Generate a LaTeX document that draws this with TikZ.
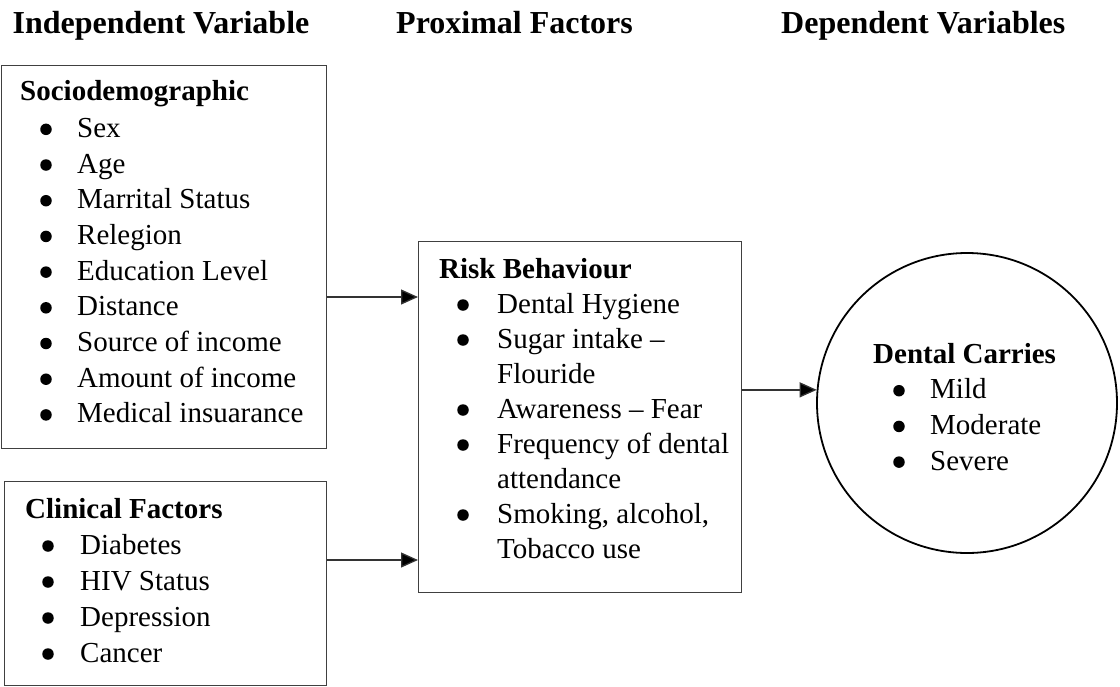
\documentclass[tikz,border=0pt]{standalone}
\usepackage{fontspec}
\setmainfont{Liberation Serif}
\usetikzlibrary{arrows.meta,calc}
\begin{document}
\begin{tikzpicture}[x=1pt,y=-1pt,
  frame/.style={draw=black!75, line width=1.3pt, rectangle, inner sep=0pt, anchor=north west},
  hdr/.style={font=\fontsize{32}{38}\selectfont\bfseries, anchor=base west, inner sep=0pt},
  ttl/.style={font=\fontsize{29}{35}\selectfont\bfseries, anchor=base west, inner sep=0pt},
  itm/.style={font=\fontsize{29}{35}\selectfont, anchor=base west, inner sep=0pt},
  dot/.style={circle, fill=black, inner sep=0pt, minimum size=11.5pt},
  arr/.style={draw=black!80, line width=1.3pt, -{Triangle[length=17pt,width=15pt,fill=black]}}]
\useasboundingbox (0,0) rectangle (1120,686);

% headers
\node[hdr] (h1) at (12.5,33) {Independent Variable};
\node[hdr] (h2) at (396,33) {Proximal Factors};
\node[hdr] (h3) at (781,33) {Dependent Variables};

% frames
\node[frame, minimum width=325pt, minimum height=383pt] (sd) at (1,65) {};
\node[frame, minimum width=322pt, minimum height=204pt] (cf) at (4,481) {};
\node[frame, minimum width=323pt, minimum height=351pt] (rb) at (418,241) {};
\node[draw=black, line width=1.8pt, circle, minimum size=300pt, inner sep=0pt] (dc) at (967,403) {};

% Sociodemographic
\node[ttl] (sdt) at (20,100) {Sociodemographic};
\foreach \t [count=\i] in {Sex, Age, Marrital Status, Relegion, Education Level, Distance, Source of income, Amount of income, Medical insuarance} {
  \node[itm] (sd\i) at ({77},{137.3+35.7*(\i-1)}) {\t};
  \node[dot] (sdb\i) at ({46},{137.3+35.7*(\i-1)-8}) {};
}

% Clinical factors
\node[ttl] (cft) at (25,518) {Clinical Factors};
\foreach \t [count=\i] in {Diabetes, HIV Status, Depression, Cancer} {
  \node[itm] (cf\i) at ({80},{518+36*\i}) {\t};
  \node[dot] (cfb\i) at ({48},{518+36*\i-8}) {};
}

% Risk behaviour
\node[ttl] (rbt) at (439,278) {Risk Behaviour};
\node[itm] (rb1) at (497,313) {Dental Hygiene};
\node[itm] (rb2) at (497,348) {Sugar intake --};
\node[itm] (rb3) at (497,383) {Flouride};
\node[itm] (rb4) at (497,418) {Awareness -- Fear};
\node[itm] (rb5) at (497,453) {Frequency of dental};
\node[itm] (rb6) at (497,488) {attendance};
\node[itm] (rb7) at (497,523) {Smoking, alcohol,};
\node[itm] (rb8) at (497,558) {Tobacco use};
\foreach \y [count=\i] in {313,348,418,453,523} {
  \node[dot] (rbb\i) at ({463},{\y-8}) {};
}

% Dental carries
\node[ttl] (dct) at (873,363) {Dental Carries};
\foreach \t [count=\i] in {Mild, Moderate, Severe} {
  \node[itm] (dc\i) at ({930},{363+35.7*\i}) {\t};
  \node[dot] (dcb\i) at ({899},{363+35.7*\i-8}) {};
}

% connectors
\coordinate (y1) at (0,297);
\coordinate (y2) at (0,560);
\draw[arr] (sd.east |- y1) -- (rb.west |- y1);
\draw[arr] (cf.east |- y2) -- (rb.west |- y2);
\draw[arr] (rb.east |- dc.175.4) -- (dc.175.4);
\end{tikzpicture}
\end{document}
